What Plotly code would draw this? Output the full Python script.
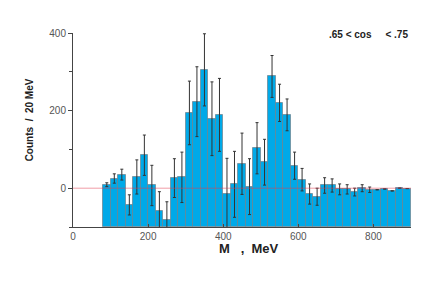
import plotly.graph_objects as go

bin_centers = [90 + 20 * i for i in range(41)]
counts = [9, 25, 35, -43, 29, 85, 7, -59, -82, 26, 28, 194, 223, 305, 179, 189,
          -14, 10, 63, 4, 103, 67, 288, 220, 189, 58, 22, -15, -22, 7, 7, -3, -3,
          -10, 0, -4, -4, -2, -7, 0, -1]
errors = [5, 12, 14, 26, 44, 52, 52, 50, 47, 50, 65, 82, 90, 93, 95, 94,
          91, 85, 79, 72, 66, 59, 54, 48, 41, 35, 29, 26, 22, 20, 17, 14, 12,
          10, 9, 7, 0, 0, 0, 0, 0]
y_floor = -100
x_ticks = [0, 200, 400, 600, 800]
y_ticks = [0, 200, 400]

fig = go.Figure()
fig.add_trace(go.Bar(
    x=bin_centers,
    y=[c - y_floor for c in counts],
    base=y_floor,
    width=20,
    marker=dict(color="#00a9e8", line=dict(color="rgba(110,130,140,0.7)", width=1)),
    error_y=dict(type="data", array=errors, color="#333333", thickness=1, width=1.5, visible=True),
    cliponaxis=False,
    hoverinfo="skip",
))
fig.add_shape(type="line", xref="x", yref="y", x0=0, x1=900, y0=0, y1=0,
              line=dict(color="rgba(225,60,80,0.5)", width=1), layer="above")

fig.update_layout(
    width=436, height=286,
    margin=dict(l=73, r=25, t=33, b=59),
    paper_bgcolor="white", plot_bgcolor="white",
    showlegend=False,
    bargap=0,
    font=dict(family="Liberation Sans, Arial, sans-serif", size=10, color="#555555"),
    xaxis=dict(range=[0, 900], tickvals=x_ticks, ticks="inside", ticklen=3,
               tickcolor="#444", showline=True, linecolor="#444", linewidth=1,
               showgrid=False, zeroline=False, tickfont=dict(size=10, color="#555")),
    yaxis=dict(range=[-100, 400], tickvals=y_ticks, ticks="outside", ticklen=4,
               tickcolor="#444", showline=True, linecolor="#444", linewidth=1,
               showgrid=False, zeroline=False, tickfont=dict(size=10, color="#555"),
               minor=dict(dtick=100, tick0=0, ticks="outside", ticklen=3,
                          tickwidth=1, tickcolor="#444", showgrid=False)),
    annotations=[
        dict(text="<b>Counts  /  20 MeV</b>", xref="paper", yref="paper",
             x=-0.13, y=0.55, textangle=-90, showarrow=False, xanchor="center", yanchor="middle",
             font=dict(size=10, color="#222")),
        dict(text="<b>M   ,  MeV</b>", xref="paper", yref="paper",
             x=0.52, y=-0.11, showarrow=False, xanchor="center", yanchor="middle",
             font=dict(size=13, color="#222")),
        dict(text="<b>.65 < cos     < .75</b>", xref="paper", yref="paper",
             x=0.997, y=0.99, showarrow=False, xanchor="right", yanchor="middle",
             font=dict(size=10, color="#222")),
    ],
)
fig.write_html("out.html", config={"displayModeBar": False},
               post_script="document.body.style.margin='0';")
